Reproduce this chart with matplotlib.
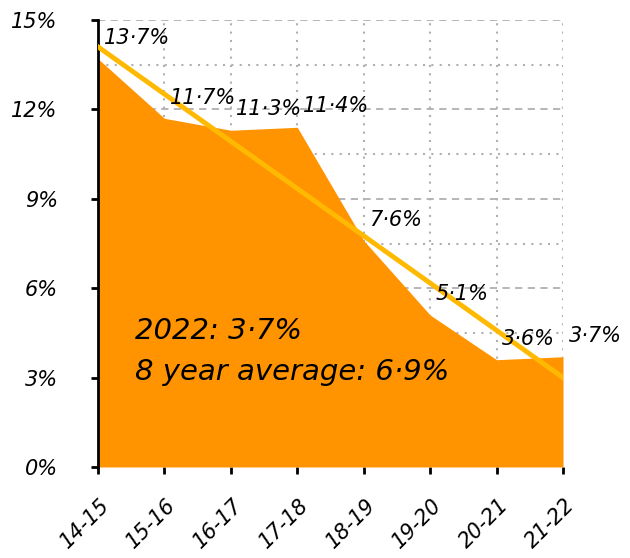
import matplotlib
matplotlib.use('Agg')
import matplotlib.pyplot as plt
import numpy as np

years = ['14-15', '15-16', '16-17', '17-18', '18-19', '19-20', '20-21', '21-22']
rates = [13.7, 11.7, 11.3, 11.4, 7.6, 5.1, 3.6, 3.7]
trend_start, trend_end = 14.1, 3.0
yticks = [0, 3, 6, 9, 12, 15]
note_lines = ['2022: 3·7%', '8 year average: 6·9%']

plt.rcParams['font.family'] = ['DejaVu Sans']
plt.rcParams['font.style'] = 'italic'

fig = plt.figure(figsize=(6.3, 5.58), dpi=100)
ax = fig.add_axes([98 / 630, 1 - 467 / 558, 465 / 630, 447 / 558])

x = np.arange(len(years))

# grid under the fill
ax.set_axisbelow(True)
ax.set_yticks(np.arange(1.5, 15, 3), minor=True)
ax.grid(True, which='major', axis='y', color='#b0b0b0', linestyle=(0, (4, 3)), linewidth=1.3)
ax.grid(True, which='minor', axis='y', color='#b0b0b0', linestyle=(0, (1, 3)), linewidth=1.5)
ax.grid(True, which='major', axis='x', color='#b0b0b0', linestyle=(0, (1, 3)), linewidth=1.5)

ax.fill_between(x, rates, 0, color='#ff9400', linewidth=0, zorder=2)
ax.plot([x[0], x[-1]], [trend_start, trend_end], color='#ffb900', linewidth=3.5, zorder=3)

for xi, v in zip(x, rates):
    ax.annotate(f'{v:.1f}'.replace('.', '·') + '%', (xi, v), xytext=(4, 15),
                textcoords='offset points', ha='left', va='center', fontsize=15, zorder=4)

ax.text(0.55, 4.55, note_lines[0], fontsize=21, va='center', ha='left', zorder=4)
ax.text(0.55, 3.2, note_lines[1], fontsize=21, va='center', ha='left', zorder=4)

ax.set_xlim(0, len(years) - 1)
ax.set_ylim(0, 15)
ax.set_xticks(x)
ax.set_xticklabels([])
# rotated year labels placed by hand so they sit like the reference
for xi, yr in zip(x, years):
    ax.annotate(yr, (xi, 0), xycoords=('data', 'axes fraction'), xytext=(1, -20),
                textcoords='offset points', rotation=45, rotation_mode='anchor',
                ha='right', va='top', fontsize=15, annotation_clip=False)
ax.set_yticks(yticks)
ax.set_yticklabels([f'{t}%' for t in yticks], fontsize=15)
ax.tick_params(axis='y', which='major', length=5, width=2, pad=24)
ax.tick_params(axis='y', which='minor', length=0)
ax.tick_params(axis='x', length=5, width=2)

for s in ['top', 'right', 'bottom']:
    ax.spines[s].set_visible(False)
ax.spines['left'].set_linewidth(2)

fig.savefig('out.png', dpi=100)
